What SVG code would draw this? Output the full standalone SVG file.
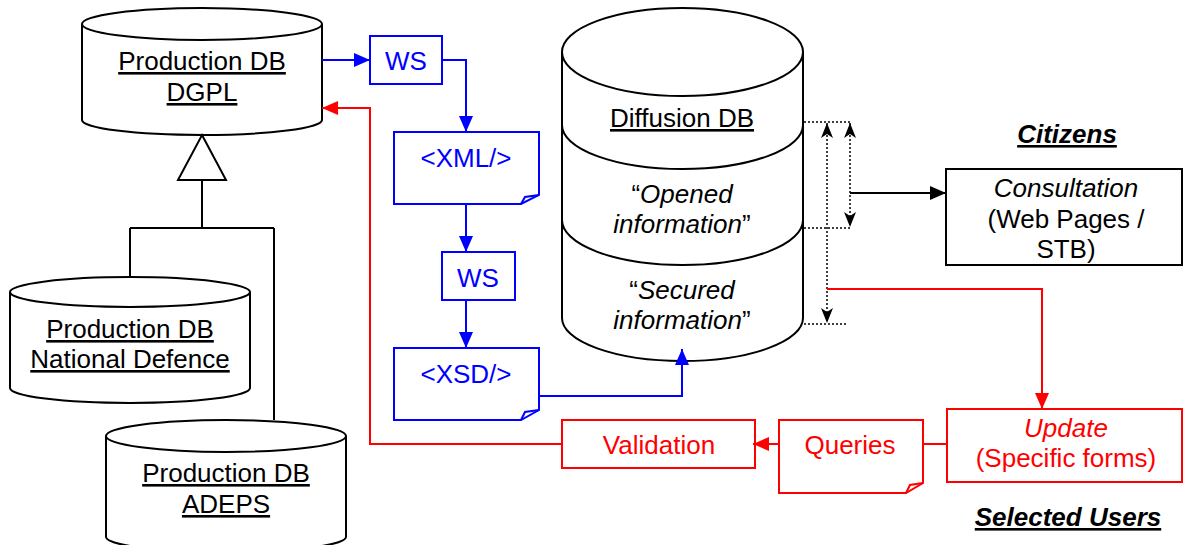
<svg xmlns="http://www.w3.org/2000/svg" width="1184" height="545" viewBox="0 0 1184 545">
<style>
text{font-family:"Liberation Sans",Arial,sans-serif;font-size:26px;text-anchor:middle}
.k{fill:#000}
.b{fill:#0000FF}
.r{fill:#FF0000}
.u{text-decoration:underline}
.i{font-style:italic}
.bi{font-style:italic;font-weight:bold;text-decoration:underline}
.sk{fill:#fff;stroke:#000;stroke-width:2}
.sb{fill:#fff;stroke:#0000FF;stroke-width:2}
.sr{fill:#fff;stroke:#FF0000;stroke-width:2}
.lk{fill:none;stroke:#000;stroke-width:2}
.lb{fill:none;stroke:#0000FF;stroke-width:2}
.lr{fill:none;stroke:#FF0000;stroke-width:2}
.dot{fill:none;stroke:#000;stroke-width:1.5;stroke-dasharray:2 2}
</style>
<defs>
<marker id="ab" markerUnits="userSpaceOnUse" markerWidth="16" markerHeight="14" refX="16" refY="7" orient="auto"><path d="M0,0 L16,7 L0,14 Z" fill="#0000FF"/></marker>
<marker id="ar" markerUnits="userSpaceOnUse" markerWidth="16" markerHeight="14" refX="16" refY="7" orient="auto"><path d="M0,0 L16,7 L0,14 Z" fill="#FF0000"/></marker>
<marker id="ak" markerUnits="userSpaceOnUse" markerWidth="16" markerHeight="14" refX="16" refY="7" orient="auto"><path d="M0,0 L16,7 L0,14 Z" fill="#000"/></marker>
<marker id="as" markerUnits="userSpaceOnUse" markerWidth="15" markerHeight="12" refX="15" refY="6" orient="auto-start-reverse"><path d="M0,0 L15,6 L0,12 L4,6 Z" fill="#000"/></marker>
</defs>
<g id="dgpl">
<path class="sk" d="M82,24 V120 A120,15 0 0 0 322,120 V24"/>
<ellipse class="sk" cx="202" cy="24" rx="120" ry="16"/>
<text class="k u" x="202" y="70">Production DB</text>
<text class="k u" x="202" y="101">DGPL</text>
</g>
<g id="natdef">
<path class="sk" d="M10,292 V388 A120,15 0 0 0 250,388 V292"/>
<ellipse class="sk" cx="130" cy="292" rx="120" ry="15"/>
<text class="k u" x="130" y="338">Production DB</text>
<text class="k u" x="130" y="368">National Defence</text>
</g>
<g id="adeps">
<path class="sk" d="M106,436 V537 A120,15 0 0 0 346,537 V436"/>
<ellipse class="sk" cx="226" cy="436" rx="120" ry="16"/>
<text class="k u" x="226" y="482">Production DB</text>
<text class="k u" x="226" y="513">ADEPS</text>
</g>
<g id="ws1">
<rect class="sb" x="370" y="36" width="72" height="48"/>
<text class="b" x="406" y="70">WS</text>
</g>
<g id="xml">
<path class="sb" d="M394,132 H539 V195 L521,204 H394 Z"/>
<path class="lb" d="M521,204 L525,197 L539,195" stroke-width="1.5"/>
<text class="b" x="466" y="167">&lt;XML/&gt;</text>
</g>
<g id="ws2">
<rect class="sb" x="442" y="252" width="73" height="48"/>
<text class="b" x="478" y="287">WS</text>
</g>
<g id="xsd">
<path class="sb" d="M394,348 H539 V410 L521,420 H394 Z"/>
<path class="lb" d="M521,420 L525,412 L539,410" stroke-width="1.5"/>
<text class="b" x="466" y="383">&lt;XSD/&gt;</text>
</g>
<g id="diffusion">
<path class="sk" d="M562,52 V318 A120.5,43 0 0 0 803,318 V52"/>
<ellipse class="sk" cx="682.5" cy="52" rx="120.5" ry="44"/>
<path class="lk" d="M562,125 A120.5,44 0 0 0 803,125 M562,220 A120.5,45 0 0 0 803,220"/>
<text class="k u" x="682" y="127">Diffusion DB</text>
<text class="k" x="682" y="203">“<tspan class="i">Opened</tspan></text>
<text class="k" x="682" y="233"><tspan class="i">information</tspan>”</text>
<text class="k" x="682" y="299">“<tspan class="i">Secured</tspan></text>
<text class="k" x="682" y="329"><tspan class="i">information</tspan>”</text>
</g>
<g id="consultation">
<rect class="sk" x="946" y="169" width="236" height="96"/>
<text class="k i" x="1066" y="197">Consultation</text>
<text class="k" x="1066" y="228">(Web Pages /</text>
<text class="k" x="1066" y="258">STB)</text>
</g>
<g id="citizens"><text class="k bi" x="1067" y="143">Citizens</text></g>
<g id="update">
<rect class="sr" x="947" y="409" width="235" height="73"/>
<text class="r i" x="1066" y="437">Update</text>
<text class="r" x="1066" y="467">(Specific forms)</text>
</g>
<g id="queries">
<path class="sr" d="M779,420 H923 V483 L906,493 H779 Z"/>
<path class="lr" d="M906,493 L910,485 L923,483" stroke-width="1.5"/>
<text class="r" x="850" y="454">Queries</text>
</g>
<g id="validation">
<rect class="sr" x="562" y="420" width="193" height="48"/>
<text class="r" x="659" y="454">Validation</text>
</g>
<g id="selected"><text class="k bi" x="1068" y="526">Selected Users</text></g>
<g id="connectors">
<path class="lk" d="M202,180 V228 M130,228 H274 M130,228 V277 M274,228 V420"/>
<path class="sk" d="M202,135 L226,180 L178,180 Z"/>
<path class="lb" d="M322,60 H370" marker-end="url(#ab)"/>
<path class="lb" d="M442,60 H466 V132" marker-end="url(#ab)"/>
<path class="lb" d="M466,204 V252" marker-end="url(#ab)"/>
<path class="lb" d="M466,300 V348" marker-end="url(#ab)"/>
<path class="lb" d="M539,396 H682 V349" marker-end="url(#ab)"/>
<path class="dot" d="M804,122 H850 M804,228 H850 M804,324 H847"/>
<path class="dot" d="M827,123 V323" marker-start="url(#as)" marker-end="url(#as)"/>
<path class="dot" d="M850,123 V227" marker-start="url(#as)" marker-end="url(#as)"/>
<path class="lk" d="M850,193 H946" marker-end="url(#ak)"/>
<path class="lr" d="M827,289 H1042 V409" marker-end="url(#ar)"/>
<path class="lr" d="M947,444 H923"/>
<path class="lr" d="M779,444 H753" marker-end="url(#ar)"/>
<path class="lr" d="M562,444 H370 V108 H322" marker-end="url(#ar)"/>
</g>
</svg>
